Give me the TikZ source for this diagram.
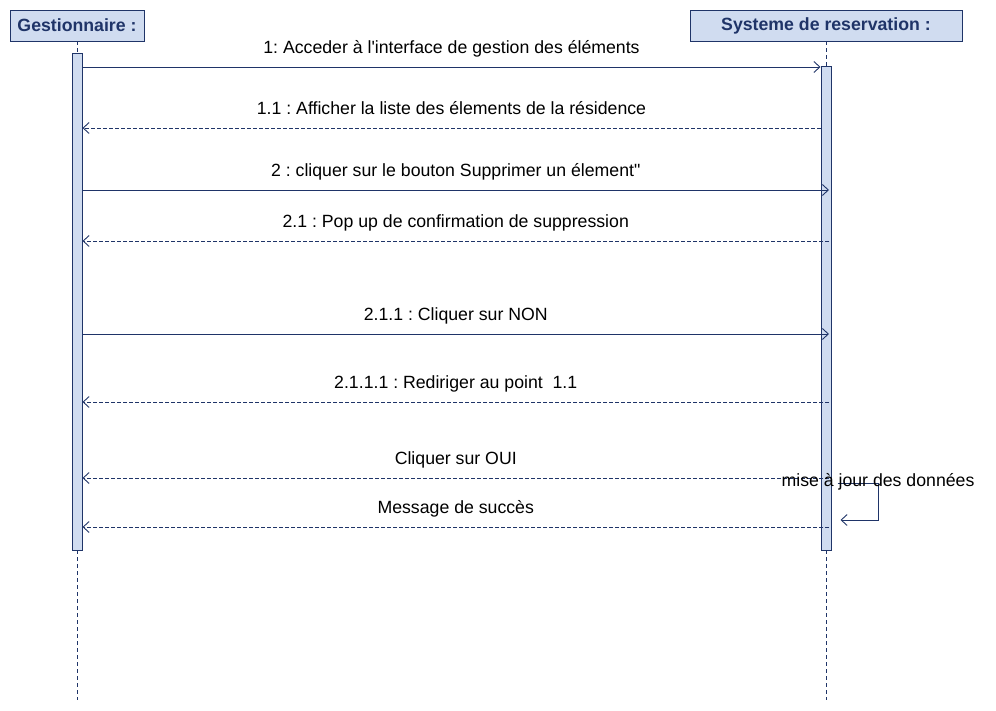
\documentclass[tikz,border=0pt]{standalone}
\usepackage{fontspec}
\setmainfont{Liberation Sans}
\usetikzlibrary{arrows.meta}

\definecolor{umlline}{HTML}{1F3468}
\definecolor{umlfill}{HTML}{D0DCF0}
\frenchspacing

\tikzset{
  actor/.style={rectangle, draw=umlline, fill=umlfill, text=umlline, font=\fontsize{17.7}{20}\selectfont\bfseries, minimum height=31pt, inner sep=0pt},
  actbar/.style={rectangle, draw=umlline, fill=umlfill, minimum width=10pt, inner sep=0pt, line width=1pt},
  lifeline/.style={draw=umlline, dashed, dash pattern=on 4pt off 3pt},
  call/.style={draw=umlline, line width=0.9pt, -{Straight Barb[length=6pt,width=11pt]}},
  reply/.style={call, dash pattern=on 4pt off 2pt},
  msgtext/.style={font=\fontsize{17.7}{20}\selectfont, text=black, inner sep=0pt},
  lbl/.style={msgtext, anchor=base, yshift=13.5pt}
}

\begin{document}
\begin{tikzpicture}[x=1pt, y=-1pt]
  \useasboundingbox (0,0) rectangle (996,711);

  % participants
  \node[actor, minimum width=134pt] (gest) at (77,25.5) {Gestionnaire :};
  \node[actor, minimum width=272pt] (sys) at (826,25.5) {Systeme de reservation :};

  % lifelines
  \coordinate (gend) at (77,700);
  \coordinate (send) at (826,700);
  \draw[lifeline] (gest.south) -- (77,54);
  \draw[lifeline] (sys.south) -- (826,67);
  \draw[lifeline] (77,550) -- (gend);
  \draw[lifeline] (826,550) -- (send);

  % activation bars
  \node[actbar, minimum height=496pt] (gbar) at (77,302) {};
  \node[actbar, minimum height=483pt] (sbar) at (826,308.5) {};

  % message heights
  \coordinate (y1) at (0,67);
  \coordinate (y2) at (0,128);
  \coordinate (y3) at (0,190);
  \coordinate (y4) at (0,241);
  \coordinate (y5) at (0,334);
  \coordinate (y6) at (0,402);
  \coordinate (y7) at (0,478);
  \coordinate (y8) at (0,527);
  \coordinate (sin) at ([xshift=3pt]sbar.center);

  \draw[call] (gbar.east |- y1) -- (sbar.west |- y1)
    node[midway, lbl] {1: Acceder à l\textquotesingle interface de gestion des éléments};
  \draw[reply] (sbar.west |- y2) -- (gbar.east |- y2)
    node[midway, lbl] {1.1 : Afficher la liste des élements de la résidence};
  \draw[call] (gbar.east |- y3) -- (sin |- y3)
    node[midway, lbl] {2 : cliquer sur le bouton Supprimer un élement\textquotedbl};
  \draw[reply] (sin |- y4) -- (gbar.east |- y4)
    node[midway, lbl] {2.1 : Pop up de confirmation de suppression};
  \draw[call] (gbar.east |- y5) -- (sin |- y5)
    node[midway, lbl] {2.1.1 : Cliquer sur NON};
  \draw[reply] (sin |- y6) -- (gbar.east |- y6)
    node[midway, lbl] {2.1.1.1 : Rediriger au point\ \ 1.1};
  \draw[reply] (sin |- y7) -- (gbar.east |- y7)
    node[midway, lbl] {Cliquer sur OUI};
  \draw[reply] (sin |- y8) -- (gbar.east |- y8)
    node[midway, lbl] {Message de succès};

  % self message
  \coordinate (selfa) at ([xshift=6pt]sbar.east |- 0,483);
  \coordinate (selfb) at ([xshift=9pt]sbar.east |- 0,520);
  \draw[call] (selfa) -| (878,520) -- (selfb);
  \node[msgtext] (selflbl) at (878,482) {mise à jour des données};
\end{tikzpicture}
\end{document}
